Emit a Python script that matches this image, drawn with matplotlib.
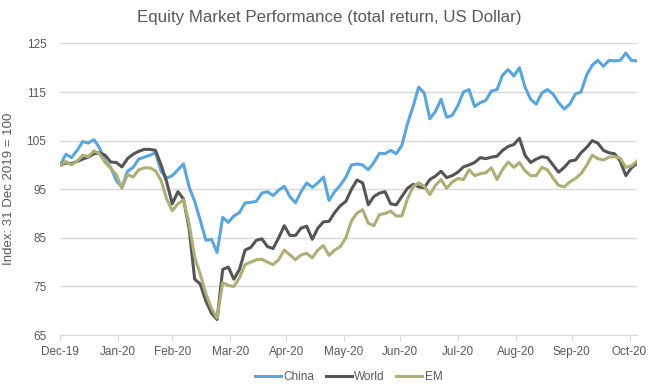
import numpy as np
import pandas as pd
import matplotlib
matplotlib.use("Agg")
import matplotlib.pyplot as plt

# values, one point every 3 days from 31 Dec 2019
china = [100.0, 102.2, 101.5, 103.0, 104.8, 104.5, 105.2, 103.5, 100.8, 99.5,
         96.8, 95.4, 98.7, 99.5, 101.2, 101.6, 102.0, 102.5, 98.7, 97.3,
         97.8, 99.0, 100.2, 95.5, 92.5, 88.6, 84.5, 84.7, 82.0, 89.2,
         88.2, 89.5, 90.2, 92.2, 92.3, 92.5, 94.2, 94.5, 93.7, 94.8,
         95.6, 93.5, 92.2, 94.5, 96.3, 95.4, 96.3, 97.5, 92.7, 94.5,
         95.8, 97.5, 100.0, 100.2, 100.0, 99.0, 100.5, 102.4, 102.3, 103.0,
         102.3, 104.0, 108.5, 112.0, 116.0, 114.8, 109.5, 111.0, 113.5, 109.8,
         110.2, 112.2, 115.0, 115.5, 112.0, 112.8, 113.3, 115.2, 115.5, 118.5,
         119.6, 118.3, 120.0, 116.0, 113.5, 112.5, 114.8, 115.5, 114.6, 112.8,
         111.5, 112.5, 114.6, 115.0, 118.5, 120.5, 121.5, 120.3, 121.5, 121.4,
         121.5, 123.0, 121.5, 121.4]

world = [100.0, 100.4, 100.3, 100.7, 101.2, 101.6, 102.3, 102.5, 102.0, 100.6,
         100.5, 99.6, 101.3, 102.2, 102.8, 103.2, 103.2, 103.0, 100.0, 96.5,
         92.0, 94.5, 93.0, 87.0, 76.5, 75.5, 72.0, 69.5, 68.2, 78.5,
         79.0, 76.5, 78.5, 82.5, 83.0, 84.5, 84.8, 83.2, 82.8, 85.0,
         87.5, 85.5, 85.5, 87.0, 87.4, 84.7, 87.0, 88.3, 88.4, 90.2,
         91.6, 92.5, 95.0, 96.9, 96.3, 91.8, 93.5, 94.2, 94.5, 92.0,
         91.8, 93.5, 95.2, 96.0, 95.5, 95.3, 97.0, 97.7, 98.7, 97.4,
         97.8, 98.5, 99.6, 100.0, 100.5, 101.5, 101.3, 101.6, 101.8, 103.0,
         103.8, 104.2, 105.5, 102.0, 100.5, 101.2, 101.7, 101.5, 100.0, 98.5,
         99.5, 100.8, 101.0, 102.5, 103.6, 105.0, 104.5, 103.0, 102.5, 102.3,
         100.8, 97.8, 99.4, 100.3]

em = [100.0, 100.7, 100.0, 100.8, 102.0, 101.7, 102.9, 102.3, 100.5, 99.3,
      98.0, 95.2, 98.0, 97.5, 99.0, 99.4, 99.4, 98.8, 96.8, 93.0,
      90.6, 92.0, 92.8, 88.0, 81.0, 77.5, 73.5, 70.5, 68.5, 75.8,
      75.2, 75.0, 76.8, 79.5, 80.0, 80.5, 80.6, 80.0, 79.5, 80.5,
      82.5, 81.5, 80.5, 81.5, 81.8, 80.9, 82.5, 83.4, 81.4, 82.5,
      83.2, 85.0, 88.5, 90.1, 90.8, 88.0, 87.5, 89.8, 90.0, 90.5,
      89.5, 89.5, 93.0, 95.5, 96.3, 95.6, 93.9, 95.8, 97.0, 95.2,
      96.5, 97.2, 97.0, 99.0, 97.8, 98.2, 98.4, 99.4, 97.0, 99.1,
      100.6, 99.5, 100.5, 98.8, 97.8, 97.8, 99.5, 99.0, 97.3, 95.8,
      95.5, 96.5, 97.2, 98.2, 99.9, 102.0, 101.3, 101.0, 101.6, 101.7,
      101.4, 99.5, 99.8, 100.8]

dates = pd.date_range("2019-12-31", periods=len(china), freq="3D")
month_ticks = pd.date_range("2019-12-31", "2020-10-31", freq="ME")
month_labels = ["Dec-19", "Jan-20", "Feb-20", "Mar-20", "Apr-20", "May-20",
                "Jun-20", "Jul-20", "Aug-20", "Sep-20", "Oct-20"]

plt.rcParams["font.family"] = ["Liberation Sans", "DejaVu Sans"]
text_col = "#595959"

fig = plt.figure(figsize=(6.52, 3.91), dpi=100)
ax = fig.add_axes([0.0925, 0.143, 0.977 - 0.0925, 0.889 - 0.143])

ax.plot(dates, china, color="#5AA5DC", lw=2.2, label="China", zorder=3)
ax.plot(dates, world, color="#555555", lw=2.2, label="World", zorder=4)
ax.plot(dates, em, color="#AEAE76", lw=2.2, label="EM", zorder=5)

ax.set_ylim(65, 125)
ax.set_yticks(np.arange(65, 126, 10))
ax.set_xlim(dates[0], dates[-1])
ax.set_xticks(month_ticks)
ax.set_xticklabels(month_labels)

ax.grid(axis="y", color="#D9D9D9", lw=1)
ax.set_axisbelow(True)
for s in ["left", "right", "top"]:
    ax.spines[s].set_visible(False)
ax.spines["bottom"].set_color("#D9D9D9")
ax.tick_params(axis="x", colors="#D9D9D9", length=4, labelcolor=text_col,
               labelsize=8.5, pad=4)
ax.tick_params(axis="y", length=0, labelcolor=text_col, labelsize=8.5, pad=10)

ax.set_ylabel("Index: 31 Dec 2019 = 100", color=text_col, fontsize=9.5,
              labelpad=8)
fig.suptitle("Equity Market Performance (total return, US Dollar)",
             color=text_col, fontsize=12.2, x=0.505, y=0.975)

ax.legend(loc="center", bbox_to_anchor=(0.5, -0.145), ncol=3,
          frameon=False, fontsize=8.5, labelcolor=text_col, handlelength=2.2,
          handletextpad=0.2, columnspacing=1.0)

fig.savefig("out.png", dpi=100)
